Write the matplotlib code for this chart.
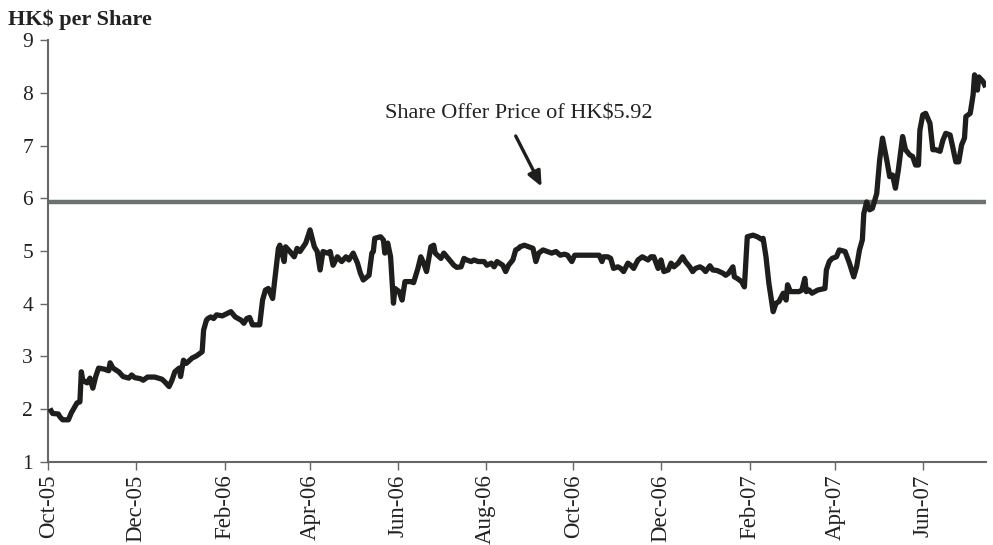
import pandas as pd
import matplotlib
matplotlib.use("Agg")
import matplotlib.pyplot as plt
import matplotlib.dates as mdates

# share price readings (HK$)
dates = [
    "2005-10-03", "2005-10-04", "2005-10-08", "2005-10-09", "2005-10-11", "2005-10-15",
    "2005-10-17", "2005-10-21", "2005-10-23", "2005-10-24", "2005-10-25", "2005-10-28",
    "2005-10-30", "2005-11-01", "2005-11-03", "2005-11-05", "2005-11-09", "2005-11-12",
    "2005-11-13", "2005-11-15", "2005-11-19", "2005-11-22", "2005-11-26", "2005-11-28",
    "2005-11-30", "2005-12-04", "2005-12-06", "2005-12-09", "2005-12-14", "2005-12-19",
    "2005-12-21", "2005-12-24", "2005-12-26", "2005-12-28", "2005-12-31", "2006-01-01",
    "2006-01-03", "2006-01-05", "2006-01-09", "2006-01-12", "2006-01-16", "2006-01-17",
    "2006-01-19", "2006-01-20", "2006-01-22", "2006-01-24", "2006-01-26", "2006-01-30",
    "2006-02-05", "2006-02-08", "2006-02-12", "2006-02-14", "2006-02-16", "2006-02-18",
    "2006-02-20", "2006-02-22", "2006-02-25", "2006-02-27", "2006-03-01", "2006-03-03",
    "2006-03-06", "2006-03-08", "2006-03-10", "2006-03-11", "2006-03-14", "2006-03-15",
    "2006-03-18", "2006-03-21", "2006-03-23", "2006-03-25", "2006-03-29", "2006-04-01",
    "2006-04-04", "2006-04-06", "2006-04-08", "2006-04-10", "2006-04-13", "2006-04-15",
    "2006-04-17", "2006-04-20", "2006-04-23", "2006-04-26", "2006-04-28", "2006-05-01",
    "2006-05-04", "2006-05-06", "2006-05-08", "2006-05-12", "2006-05-14", "2006-05-15",
    "2006-05-16", "2006-05-20", "2006-05-22", "2006-05-23", "2006-05-25", "2006-05-27",
    "2006-05-28", "2006-05-29", "2006-05-30", "2006-06-02", "2006-06-04", "2006-06-06",
    "2006-06-10", "2006-06-12", "2006-06-15", "2006-06-17", "2006-06-19", "2006-06-21",
    "2006-06-24", "2006-06-26", "2006-06-27", "2006-07-01", "2006-07-03", "2006-07-07",
    "2006-07-10", "2006-07-12", "2006-07-15", "2006-07-17", "2006-07-19", "2006-07-22",
    "2006-07-24", "2006-07-27", "2006-07-31", "2006-08-02", "2006-08-05", "2006-08-07",
    "2006-08-09", "2006-08-13", "2006-08-15", "2006-08-17", "2006-08-20", "2006-08-22",
    "2006-08-24", "2006-08-25", "2006-08-28", "2006-08-31", "2006-09-03", "2006-09-05",
    "2006-09-07", "2006-09-10", "2006-09-13", "2006-09-16", "2006-09-19", "2006-09-22",
    "2006-09-25", "2006-09-27", "2006-09-30", "2006-10-02", "2006-10-08", "2006-10-19",
    "2006-10-21", "2006-10-22", "2006-10-25", "2006-10-27", "2006-10-29", "2006-11-01",
    "2006-11-03", "2006-11-05", "2006-11-08", "2006-11-10", "2006-11-12", "2006-11-15",
    "2006-11-18", "2006-11-22", "2006-11-24", "2006-11-26", "2006-11-29", "2006-12-01",
    "2006-12-03", "2006-12-06", "2006-12-08", "2006-12-10", "2006-12-13", "2006-12-16",
    "2006-12-18", "2006-12-21", "2006-12-23", "2006-12-25", "2006-12-28", "2006-12-30",
    "2007-01-01", "2007-01-04", "2007-01-06", "2007-01-09", "2007-01-13", "2007-01-15",
    "2007-01-17", "2007-01-20", "2007-01-21", "2007-01-23", "2007-01-26", "2007-01-28",
    "2007-01-29", "2007-01-30", "2007-02-03", "2007-02-06", "2007-02-09", "2007-02-10",
    "2007-02-12", "2007-02-14", "2007-02-17", "2007-02-19", "2007-02-21", "2007-02-24",
    "2007-02-26", "2007-02-27", "2007-03-01", "2007-03-04", "2007-03-07", "2007-03-09",
    "2007-03-11", "2007-03-12", "2007-03-14", "2007-03-16", "2007-03-20", "2007-03-25",
    "2007-03-26", "2007-03-28", "2007-03-30", "2007-04-02", "2007-04-04", "2007-04-08",
    "2007-04-11", "2007-04-14", "2007-04-16", "2007-04-18", "2007-04-20", "2007-04-21",
    "2007-04-23", "2007-04-25", "2007-04-27", "2007-04-30", "2007-05-02", "2007-05-04",
    "2007-05-07", "2007-05-09", "2007-05-11", "2007-05-13", "2007-05-15", "2007-05-18",
    "2007-05-20", "2007-05-23", "2007-05-25", "2007-05-27", "2007-05-29", "2007-05-30",
    "2007-06-01", "2007-06-03", "2007-06-06", "2007-06-08", "2007-06-10", "2007-06-13",
    "2007-06-15", "2007-06-17", "2007-06-20", "2007-06-22", "2007-06-24", "2007-06-26",
    "2007-06-28", "2007-06-30", "2007-07-01", "2007-07-04", "2007-07-06", "2007-07-07",
    "2007-07-09", "2007-07-10", "2007-07-13", "2007-07-14",
]
price = [
    1.97, 1.92, 1.91, 1.86, 1.80, 1.80,
    1.93, 2.12, 2.14, 2.71, 2.55, 2.50,
    2.59, 2.40, 2.62, 2.78, 2.76, 2.73,
    2.88, 2.78, 2.71, 2.62, 2.59, 2.65,
    2.60, 2.58, 2.55, 2.61, 2.61, 2.57,
    2.52, 2.43, 2.55, 2.71, 2.78, 2.62,
    2.93, 2.87, 2.97, 3.01, 3.09, 3.50,
    3.69, 3.72, 3.75, 3.72, 3.79, 3.77,
    3.85, 3.75, 3.69, 3.63, 3.72, 3.74,
    3.60, 3.60, 3.60, 4.07, 4.26, 4.29,
    4.10, 4.58, 5.05, 5.11, 4.80, 5.08,
    4.99, 4.89, 5.05, 4.99, 5.15, 5.40,
    5.08, 4.99, 4.64, 4.99, 4.96, 4.99,
    4.73, 4.89, 4.80, 4.89, 4.83, 4.96,
    4.77, 4.58, 4.45, 4.54, 4.96, 4.99,
    5.24, 5.27, 5.21, 4.96, 5.15, 4.89,
    4.45, 4.01, 4.29, 4.23, 4.07, 4.42,
    4.42, 4.40, 4.67, 4.89, 4.77, 4.61,
    5.08, 5.11, 4.96, 4.86, 4.96, 4.83,
    4.73, 4.69, 4.70, 4.86, 4.83, 4.80,
    4.83, 4.80, 4.80, 4.73, 4.77, 4.70,
    4.80, 4.73, 4.61, 4.73, 4.83, 5.02,
    5.05, 5.08, 5.11, 5.08, 5.05, 4.80,
    4.96, 5.02, 4.99, 4.96, 4.99, 4.92,
    4.94, 4.92, 4.80, 4.92, 4.92, 4.92,
    4.80, 4.89, 4.89, 4.86, 4.67, 4.70,
    4.67, 4.61, 4.77, 4.73, 4.67, 4.83,
    4.89, 4.83, 4.89, 4.89, 4.67, 4.83,
    4.61, 4.64, 4.77, 4.70, 4.77, 4.89,
    4.80, 4.70, 4.61, 4.67, 4.70, 4.67,
    4.61, 4.72, 4.64, 4.63, 4.58, 4.54,
    4.58, 4.70, 4.51, 4.48, 4.42, 4.32,
    4.80, 5.27, 5.30, 5.27, 5.22, 5.24,
    4.89, 4.39, 3.85, 4.01, 4.04, 4.20,
    4.07, 4.36, 4.23, 4.23, 4.23, 4.26,
    4.48, 4.23, 4.26, 4.20, 4.26, 4.29,
    4.64, 4.80, 4.86, 4.89, 5.02, 4.99,
    4.77, 4.51, 4.70, 5.02, 5.21, 5.71,
    5.93, 5.78, 5.81, 6.09, 6.72, 7.14,
    6.72, 6.41, 6.44, 6.19, 6.53, 7.17,
    6.92, 6.82, 6.79, 6.63, 6.63, 7.29,
    7.58, 7.61, 7.42, 6.92, 6.92, 6.89,
    7.10, 7.23, 7.20, 6.95, 6.69, 6.69,
    7.01, 7.14, 7.55, 7.61, 7.96, 8.34,
    8.05, 8.30, 8.21, 8.15,
]
offer_price = 5.92
offer_label = "Share Offer Price of HK$5.92"
tick_months = pd.date_range("2005-10-01", "2007-06-01", freq="2MS")

plt.rcParams["font.family"] = ["Liberation Serif", "DejaVu Serif"]

x = pd.to_datetime(dates)

fig = plt.figure(figsize=(9.93, 5.45), dpi=100)
ax = fig.add_axes([0.0486, 0.1523, 0.9444, 0.7743])

ax.axhline(offer_price, color="#6b7371", lw=3.2, solid_capstyle="round", zorder=2)
ax.plot(x, price, color="#1e1f1c", lw=3.8, solid_joinstyle="round", zorder=3)

ax.text(pd.Timestamp("2006-08-24"), 7.6, offer_label, ha="center", va="center",
        fontsize=16, color="#222222")
ax.annotate("", xy=(pd.Timestamp("2006-09-09"), 6.22),
            xytext=(pd.Timestamp("2006-08-22"), 7.18),
            arrowprops=dict(arrowstyle="-|>,head_length=0.9,head_width=0.4",
                            color="#1e1f1c", lw=2.4, shrinkA=0, shrinkB=0))

ax.set_xlim(pd.Timestamp("2005-10-01"), pd.Timestamp("2007-07-15"))
ax.set_ylim(1, 9)
ax.set_yticks(range(1, 10))
ax.set_xticks(tick_months)
ax.xaxis.set_major_formatter(mdates.DateFormatter("%b-%y"))
for lbl in ax.get_xticklabels():
    lbl.set_rotation(90)

for s in ["top", "right"]:
    ax.spines[s].set_visible(False)
for s in ["left", "bottom"]:
    ax.spines[s].set_color("#666666")
    ax.spines[s].set_linewidth(1.5)
ax.tick_params(axis="both", direction="out", length=6, width=1, color="#666666",
               labelcolor="#222222")
ax.tick_params(axis="y", pad=5, labelsize=15.5)
ax.tick_params(axis="x", pad=3, labelsize=16.5)

fig.text(0.008, 0.963, "HK$ per Share", fontsize=16, fontweight="bold",
         color="#222222", ha="left", va="center")

fig.savefig("out.png", dpi=100)
